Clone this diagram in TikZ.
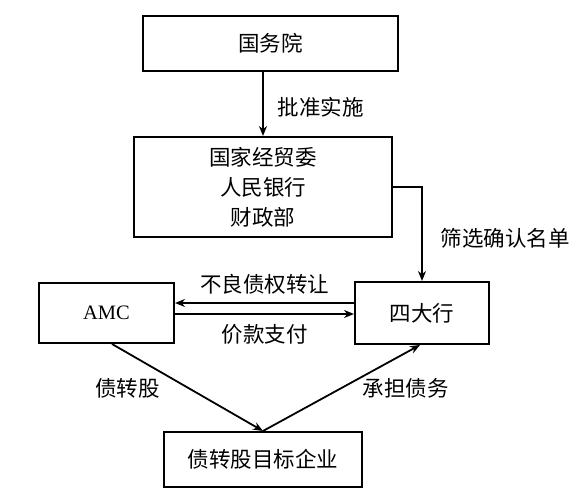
\documentclass[tikz,border=0pt]{standalone}
\usepackage{fontspec}
\setmainfont{Liberation Serif}
\newfontfamily\cjk{Noto Sans CJK SC}
\usepackage{tikz}
\usetikzlibrary{%
  calc,%
  arrows.meta%
}

\begin{document}
\begin{tikzpicture}[x=1pt,y=-1pt,>={Stealth[length=10pt,width=8pt]},
  box/.style={draw,line width=2pt,inner sep=0pt,align=center,
    font=\cjk\fontsize{21.5}{30}\selectfont},
  lbl/.style={inner sep=0pt,font=\cjk\fontsize{21.5}{26}\selectfont},
  link/.style={->,line width=1.8pt}]
\useasboundingbox (0,0) rectangle (587,500);
\node[box,minimum width=255pt,minimum height=55pt] (gwy) at (270.5,43.5) {国务院};
\node[box,minimum width=258pt,minimum height=100pt] (jmw) at (263,187)
  {国家经贸委\\人民银行\\财政部};
\node[box,minimum width=135pt,minimum height=60pt,
  font=\fontsize{20.5}{24}\selectfont] (amc) at (106.5,313) {AMC};
\node[box,minimum width=134pt,minimum height=62pt] (sdh) at (422,313) {四大行};
\node[box,minimum width=198pt,minimum height=55pt] (qy) at (263,459.5) {债转股目标企业};
\draw[link] (jmw.north |- gwy.south) -- node[lbl,anchor=west,
  xshift=14pt,yshift=-3.5pt] (pz) {批准实施} (jmw.north);
\draw[link] (jmw.east) -| node[lbl,anchor=west,pos=.75,
  xshift=18pt,yshift=-4.5pt] (sx) {筛选确认名单} (sdh.north);
\draw[link] ([yshift=10pt]sdh.west) -- node[lbl,above=8pt] (bl)
  {不良债权转让} ([yshift=10pt]amc.east);
\draw[link] ([yshift=-1pt]amc.east) -- node[lbl,below=9pt] (jk)
  {价款支付} ([yshift=-1pt]sdh.west);
\draw[link] ([xshift=5.5pt]amc.south) -- node[lbl,anchor=east,
  pos=.506,xshift=-28pt] (zg) {债转股} (qy.north);
\draw[link] (qy.north) -- node[lbl,anchor=west,xshift=20.5pt] (cd)
  {承担债务} ([xshift=-2pt]sdh.south);
\end{tikzpicture}
\end{document}
